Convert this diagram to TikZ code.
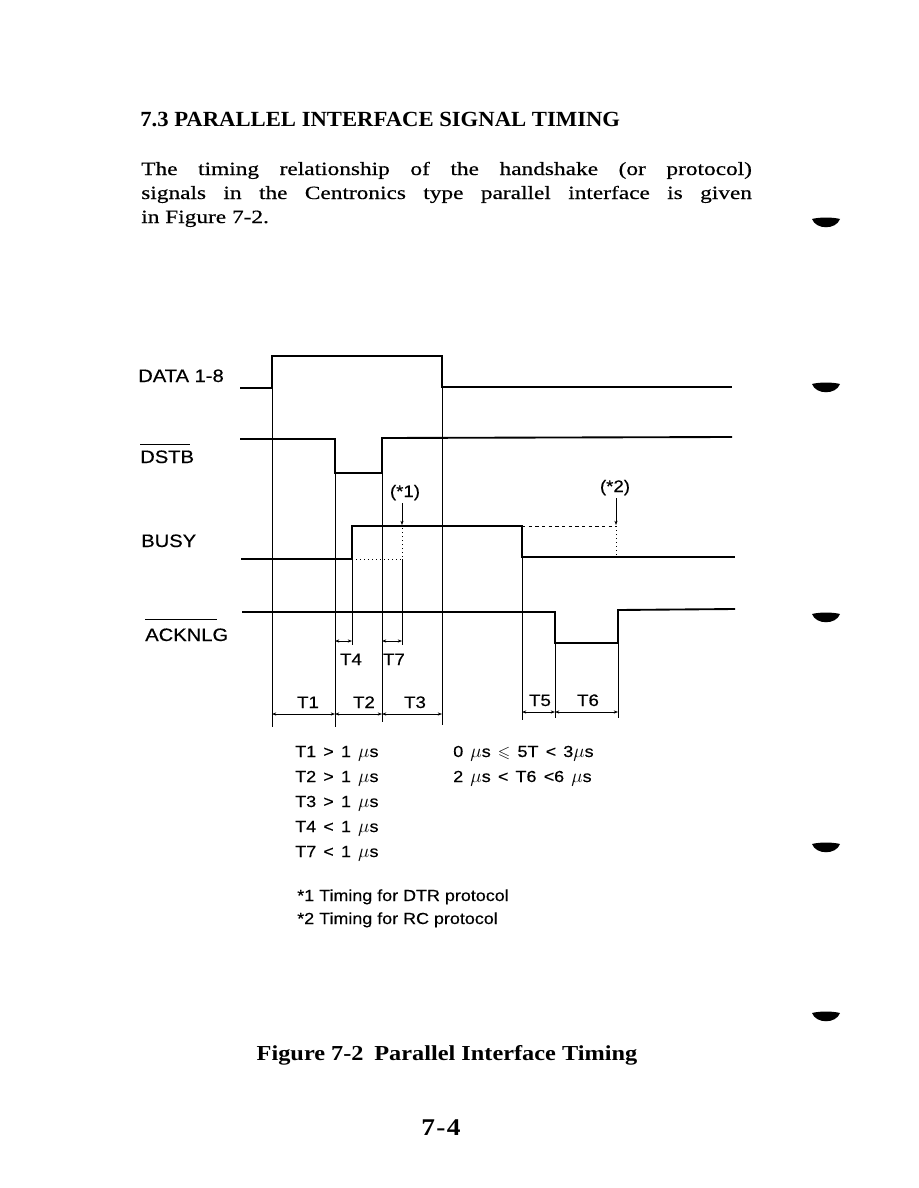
\documentclass[tikz,border=0pt]{standalone}
\usepackage{fontspec}
\usepackage{amssymb}
\setmainfont{Liberation Serif}
\newfontfamily\labfont[FakeStretch=1.12,FakeBold=0.4]{Liberation Sans}
\newfontfamily\bodyfont[FakeStretch=1.25,FakeBold=0.5]{Liberation Serif}
\newfontfamily\headfont[FakeStretch=1.05]{Liberation Serif}
\newfontfamily\capfont[FakeStretch=1.14]{Liberation Serif}
\newcommand\wsp{\hspace{0.45em}}
\newcommand\mus{{\fontsize{14}{14}\selectfont$\mu$}s}
\usetikzlibrary{arrows.meta}
\begin{document}
\begin{tikzpicture}[x=0.75pt,y=-0.75pt,
  sig/.style={line width=1.4pt,line join=miter},
  thin/.style={line width=0.5pt},
  dimline/.style={line width=0.5pt,{Stealth[length=3.2pt,width=2.4pt]}-{Stealth[length=3.2pt,width=2.4pt]}},
  pointer/.style={line width=0.5pt,-{Stealth[length=3.2pt,width=2.4pt]}},
  dotline/.style={line width=0.6pt,dash pattern=on 1pt off 2pt},
  dashline/.style={line width=0.6pt,dash pattern=on 2.5pt off 2.5pt},
  siglabel/.style={font=\labfont\fontsize{13.5}{16}\selectfont,inner sep=0pt,anchor=base west},
  tlabel/.style={font=\labfont\fontsize{12.5}{14}\selectfont,inner sep=0pt,anchor=base},
  spec/.style={font=\labfont\fontsize{12}{15}\selectfont,inner sep=0pt,anchor=base west},
  note/.style={font=\labfont\fontsize{12}{14}\selectfont,inner sep=0pt,anchor=base west},
  body/.style={font=\bodyfont\fontsize{14}{18}\selectfont,inner sep=0pt,anchor=base west},
  head/.style={font=\headfont\bfseries\fontsize{16.2}{19}\selectfont,inner sep=0pt,anchor=base west},
  caption/.style={font=\capfont\bfseries\fontsize{16}{19}\selectfont,inner sep=0pt,anchor=base}
]
\fill[white] (0,0) rectangle (918,1188);
\useasboundingbox (0,0) rectangle (918,1188);

% heading and paragraph
\node[head] (title) at (140,127) {7.3 PARALLEL INTERFACE SIGNAL TIMING};
\node[body] (p1) at (141,175) {\makebox[458pt][s]{The timing relationship of the handshake (or protocol)}};
\node[body] (p2) at (141,199) {\makebox[458pt][s]{signals in the Centronics type parallel interface is given}};
\node[body] (p3) at (141,223) {in Figure 7-2.};

% signal labels
\node[siglabel] (ldata) at (138,382) {DATA 1-8};
\node[siglabel] (ldstb) at (140,463) {DSTB};
\draw[thin] (140,444) -- (190,444);
\node[siglabel] (lbusy) at (141,547) {BUSY};
\node[siglabel] (lack) at (145,641) {ACKNLG};
\draw[thin] (145,619) -- (217,619);

% extension lines
\draw[thin] (272,388) -- (272,727);
\draw[thin] (335,473) -- (335,727);
\draw[thin] (382,473) -- (382,722);
\draw[thin] (442,388) -- (442,725);
\draw[thin] (352,559) -- (352,645);
\draw[thin] (402,559) -- (402,645);
\draw[thin] (522,557) -- (522,720);
\draw[thin] (555,643) -- (555,718);
\draw[thin] (618,643) -- (618,718);

% dotted / dashed helper lines
\draw[dotline] (352,559) -- (402,559) -- (402,526);
\draw[dashline] (522,526) -- (616,526);
\draw[dotline] (616,526) -- (616,557);

% signals
\draw[sig] (240,388) -- (272,388) -- (272,356) -- (442,356) -- (442,387) -- (732,387);
\draw[sig] (240,439) -- (335,439) -- (335,473) -- (382,473) -- (382,438) -- (732,437);
\draw[sig] (241,559) -- (352,559) -- (352,526) -- (522,526) -- (522,557) -- (735,557);
\draw[sig] (242,612) -- (555,612) -- (555,643) -- (618,643) -- (618,610) -- (735,609);

% notes (*1) (*2)
\node[tlabel] (n1) at (405,497) {(*1)};
\draw[pointer] (402,503) -- (402,525);
\node[tlabel] (n2) at (615,492) {(*2)};
\draw[pointer] (616,498) -- (616,525);

% dimension lines
\draw[dimline] (335,641) -- (352,641);
\draw[dimline] (382,641) -- (402,641);
\node[tlabel] (t4) at (351,665) {T4};
\node[tlabel] (t7) at (394,665) {T7};
\draw[dimline] (272,714) -- (335,714);
\draw[dimline] (335,714) -- (382,714);
\draw[dimline] (382,714) -- (442,714);
\node[tlabel] (t1) at (308,708) {T1};
\node[tlabel] (t2) at (364,708) {T2};
\node[tlabel] (t3) at (415,708) {T3};
\draw[dimline] (522,712) -- (555,712);
\draw[dimline] (555,712) -- (618,712);
\node[tlabel] (t5) at (540,706) {T5};
\node[tlabel] (t6) at (588,706) {T6};

% specification
\node[spec] (s1) at (295,757) {T1\wsp>\wsp1\wsp\mus};
\node[spec] (s2) at (295,782) {T2\wsp>\wsp1\wsp\mus};
\node[spec] (s3) at (295,807) {T3\wsp>\wsp1\wsp\mus};
\node[spec] (s4) at (295,832) {T4\wsp<\wsp1\wsp\mus};
\node[spec] (s5) at (295,857) {T7\wsp<\wsp1\wsp\mus};
\node[spec] (s6) at (453,757) {0\wsp\mus\wsp$\leqslant$\wsp5T\wsp<\wsp3\mus};
\node[spec] (s7) at (453,782) {2\wsp\mus\wsp<\wsp T6\wsp<6\wsp\mus};

% footnotes
\node[note] (f1) at (297,901) {*1 Timing for DTR protocol};
\node[note] (f2) at (297,924) {*2 Timing for RC protocol};

% caption and page number
\node[caption] (cap) at (447,1060) {Figure 7-2\hspace{0.5em}Parallel Interface Timing};
\node[caption,font=\capfont\bfseries\fontsize{18}{20}\selectfont] (page) at (441,1135) {7\kern1pt-\kern1pt4};

% binder marks
\foreach \yy in {222,387,617,847,1016}
  \fill (812,\yy-3) .. controls (820,\yy-5) and (832,\yy-5) .. (840,\yy-3)
        .. controls (836,\yy+8) and (816,\yy+8) .. cycle;
\end{tikzpicture}
\end{document}
